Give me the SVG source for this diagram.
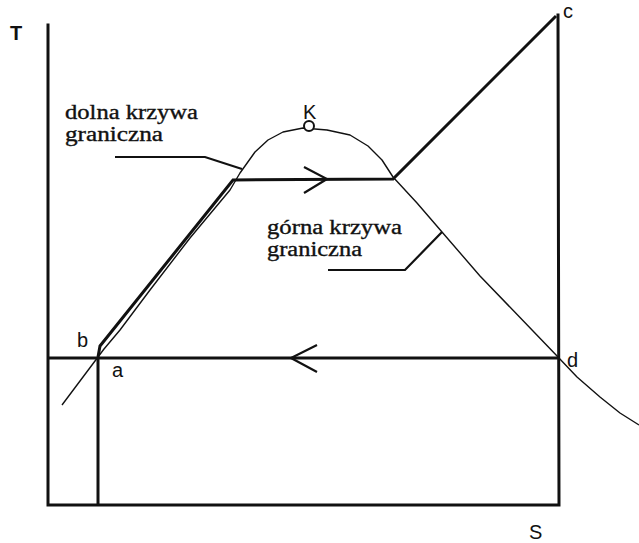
<svg xmlns="http://www.w3.org/2000/svg" width="639" height="543" viewBox="0 0 639 543">
<style>
.ax{fill:none;stroke:#111;stroke-width:3;stroke-linecap:square}
.pr{fill:none;stroke:#111;stroke-width:3;stroke-linejoin:miter}
.cv{fill:none;stroke:#111;stroke-width:1.4;stroke-linejoin:round}
.ld{fill:none;stroke:#111;stroke-width:2.2}
.ar{fill:none;stroke:#111;stroke-width:2.2;stroke-linejoin:miter}
.lb{font-family:"Liberation Sans",Arial,sans-serif;font-size:20px;fill:#111}
.sf{font-family:"Liberation Serif","Times New Roman",serif;font-size:20px;fill:#111;stroke:#111;stroke-width:0.35}
</style>
<rect width="639" height="543" fill="#fff"/>
<g id="axes">
<path class="ax" d="M48,25 L48,505 L559,505 L558,15"/>
<text class="lb" x="10" y="40" font-weight="bold" font-size="21">T</text>
<text class="lb" x="529" y="539">S</text>
</g>
<g id="saturation-curve">
<path class="cv" d="M62,405 L98,357 L104,349 L120,330 L150,290 L190,238 L215,208 L230,190 L240,173 L255,152 L268,140 L283,132 L303,128 L327,130 L350,135 L368,146 L382,160 L393,177 L417,203 L442,232 L480,276 L533,331 L558,357 L577,377 L600,397 L620,413 L639,425"/>
<circle cx="309" cy="126" r="5" fill="#fff" stroke="#111" stroke-width="2"/>
<text class="lb" x="303" y="119" font-size="18">K</text>
</g>
<g id="process">
<path class="pr" d="M98,357 L100,346 L233,180 L393,179 L556,16"/>
<path class="pr" d="M48,358 L558,358"/>
<path class="pr" d="M98,358 L98,505"/>
<path class="ar" d="M304,167 L327,179 L304,193"/>
<path class="ar" d="M317,345 L291,358 L317,372"/>
</g>
<g id="point-labels">
<text class="lb" x="563" y="18">c</text>
<text class="lb" x="77" y="347" font-size="21">b</text>
<text class="lb" x="112" y="377">a</text>
<text class="lb" x="567" y="367">d</text>
</g>
<g id="label-dolna">
<text class="sf" x="65" y="119" textLength="133" lengthAdjust="spacingAndGlyphs">dolna krzywa</text>
<text class="sf" x="65" y="141" textLength="98" lengthAdjust="spacingAndGlyphs">graniczna</text>
<path class="ld" d="M115,157 L205,157 L242,169"/>
</g>
<g id="label-gorna">
<text class="sf" x="267" y="234" textLength="135" lengthAdjust="spacingAndGlyphs">górna krzywa</text>
<text class="sf" x="267" y="256" textLength="95" lengthAdjust="spacingAndGlyphs">graniczna</text>
<path class="ld" d="M328,270 L405,270 L442,232"/>
</g>
</svg>
